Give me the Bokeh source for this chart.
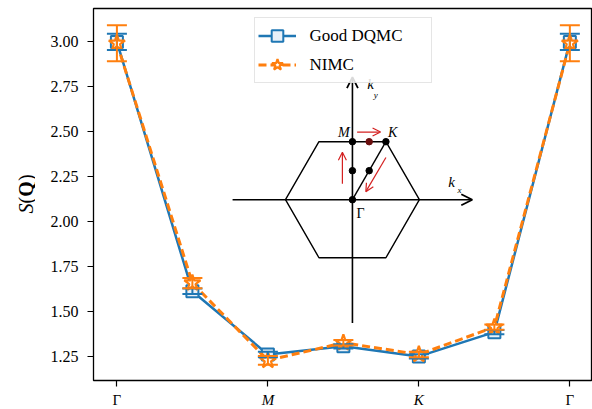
import numpy as np
from bokeh.plotting import figure
from bokeh.layouts import row, column
from bokeh.models import (ColumnDataSource, Whisker, TeeHead, Arrow, OpenHead, Label,
                          Legend, LegendItem, FixedTicker, Range1d)
from bokeh.embed import file_html
from bokeh.resources import INLINE

# ---------------- data ----------------
x_pos = [0, 1, 2, 3, 4, 5, 6]
tick_pos = [0, 2, 4, 6]
tick_labels = ["Γ", "M", "K", "Γ"]
tick_styles = ["normal", "italic", "italic", "normal"]
y_ticks = [1.25, 1.50, 1.75, 2.00, 2.25, 2.50, 2.75, 3.00]

good_y = [3.00, 1.613, 1.261, 1.306, 1.250, 1.385, 3.00]
good_err = [0.045, 0.015, 0.015, 0.012, 0.012, 0.012, 0.045]
nimc_y = [2.993, 1.658, 1.228, 1.326, 1.261, 1.413, 2.993]
nimc_err = [0.10, 0.028, 0.025, 0.015, 0.015, 0.015, 0.10]

# inset (Brillouin-zone sketch) in unit coordinates, hexagon circumradius = 1
hex_u = [1, 0.5, -0.5, -1, -0.5, 0.5, 1]
hex_v = [0, 0.866, 0.866, 0, -0.866, -0.866, 0]
dot_u = [0, 0.25, 0.5, 0, 0.25, 0]
dot_v = [0.866, 0.866, 0.866, 0.433, 0.433, 0]
dot_c = ["black", "#6b0f0f", "black", "black", "black", "black"]
red_arrows = [(0.07, 1.01, 0.42, 1.01), (-0.15, 0.24, -0.15, 0.71), (0.50, 0.63, 0.20, 0.12)]
axis_arrows = [(-1.79, 0, 1.79, 0), (0, -1.84, 0, 1.83)]
gk_line = ([0, 0.5], [0, 0.866])
inset_center = (3.12, 2.122)
inset_scale = (0.887, 0.3728)

FONT = "Liberation Serif"
BLUE = "#1f77b4"
ORANGE = "#ff7f0e"
RED = "#d42020"

XR = Range1d(-0.31, 6.3)
YR = Range1d(1.116, 3.186)

# ---------------- main figure ----------------
p = figure(width=557, height=390, output_backend="svg", toolbar_location=None,
           x_range=XR, y_range=YR,
           min_border_left=58, min_border_right=0, min_border_top=8, min_border_bottom=10)
p.grid.visible = False
p.outline_line_color = "black"
p.outline_line_width = 1.3
p.background_fill_color = "white"
p.border_fill_color = "white"

p.yaxis.ticker = FixedTicker(ticks=y_ticks)
p.yaxis.major_label_overrides = {t: f"{t:.2f}" for t in y_ticks}
p.yaxis.major_label_text_font = FONT
p.yaxis.major_label_text_font_size = "16px"
p.yaxis.major_label_text_color = "black"
p.yaxis.major_tick_out = 6
p.yaxis.major_tick_in = 0
p.yaxis.minor_tick_out = 0
p.yaxis.minor_tick_in = 0
p.yaxis.major_label_standoff = 9
p.yaxis.axis_line_color = None
p.yaxis.major_tick_line_width = 1.2

p.xaxis.ticker = FixedTicker(ticks=tick_pos)
p.xaxis.major_label_overrides = {t: "" for t in tick_pos}
p.xaxis.major_label_text_font_size = "1px"
p.xaxis.major_label_standoff = 0
p.xaxis.major_tick_out = 6
p.xaxis.major_tick_in = 0
p.xaxis.minor_tick_out = 0
p.xaxis.minor_tick_in = 0
p.xaxis.axis_line_color = None
p.xaxis.major_tick_line_width = 1.2

# ---------------- inset ----------------
cx, cy = inset_center
sx, sy = inset_scale
def tx(u):
    return [cx + a * sx for a in u]
def ty(v):
    return [cy + a * sy for a in v]

p.line(tx(hex_u), ty(hex_v), line_color="black", line_width=1.4)
p.line(tx(gk_line[0]), ty(gk_line[1]), line_color="black", line_width=1.4)
for (u0, v0, u1, v1) in axis_arrows:
    p.add_layout(Arrow(x_start=tx([u0])[0], y_start=ty([v0])[0], x_end=tx([u1])[0], y_end=ty([v1])[0],
                       line_color="black", line_width=1.6,
                       end=OpenHead(size=11, line_color="black", line_width=1.8)))
for (u0, v0, u1, v1) in red_arrows:
    p.add_layout(Arrow(x_start=tx([u0])[0], y_start=ty([v0])[0], x_end=tx([u1])[0], y_end=ty([v1])[0],
                       line_color=RED, line_width=1.2,
                       end=OpenHead(size=8, line_color=RED, line_width=1.2)))
p.scatter(tx(dot_u), ty(dot_v), marker="circle", size=6.5, fill_color=dot_c, line_color=dot_c)

inset_labels = [("M", -0.04, 1.0, "right", "italic", "14px"),
                ("K", 0.53, 1.0, "left", "italic", "14px"),
                ("Γ", 0.06, -0.21, "left", "normal", "14px"),
                ("k", 0.22, 1.72, "left", "italic", "15px"),
                ("y", 0.32, 1.56, "left", "italic", "9px"),
                ("k", 1.43, 0.26, "left", "italic", "15px"),
                ("x", 1.57, 0.14, "left", "italic", "9px")]
for txt, u, v, al, st, fs in inset_labels:
    p.add_layout(Label(x=tx([u])[0], y=ty([v])[0], text=txt, text_font=FONT, text_font_size=fs,
                       text_font_style=st, text_align=al, text_baseline="middle", text_color="black"))

# ---------------- data series ----------------
src_g = ColumnDataSource(dict(x=x_pos, y=good_y,
                              lo=[a - b for a, b in zip(good_y, good_err)],
                              hi=[a + b for a, b in zip(good_y, good_err)]))
src_n = ColumnDataSource(dict(x=x_pos, y=nimc_y,
                              lo=[a - b for a, b in zip(nimc_y, nimc_err)],
                              hi=[a + b for a, b in zip(nimc_y, nimc_err)]))

for src, col in [(src_g, BLUE), (src_n, ORANGE)]:
    p.add_layout(Whisker(source=src, base="x", upper="hi", lower="lo", dimension="height",
                         line_color=col, line_width=2, level="glyph",
                         upper_head=TeeHead(size=20, line_color=col, line_width=2),
                         lower_head=TeeHead(size=20, line_color=col, line_width=2)))

g_line = p.line("x", "y", source=src_g, line_color=BLUE, line_width=2.5)
g_mark = p.scatter("x", "y", source=src_g, marker="square", size=12, fill_color="#eaf1f8",
                   line_color=BLUE, line_width=2)
n_line = p.line("x", "y", source=src_n, line_color=ORANGE, line_width=3, line_dash="8 4")
n_mark = p.scatter("x", "y", source=src_n, marker="star", size=17, fill_color="white",
                   line_color=ORANGE, line_width=2.2)

# legend-only vertical bars
g_bar = p.scatter(x=[np.nan], y=[np.nan], marker="dash", angle=np.pi / 2, size=20,
                  line_color=BLUE, line_width=2)
n_bar = p.scatter(x=[np.nan], y=[np.nan], marker="dash", angle=np.pi / 2, size=20,
                  line_color=ORANGE, line_width=2)

legend = Legend(items=[LegendItem(label="Good DQMC", renderers=[g_line, g_bar, g_mark]),
                       LegendItem(label="NIMC", renderers=[n_line, n_bar, n_mark])],
                location="top_center", margin=9, padding=3, spacing=-5,
                glyph_width=38, glyph_height=29, label_standoff=14, label_width=118,
                label_text_font=FONT, label_text_font_size="17px", label_text_color="black",
                border_line_color="#cccccc", border_line_width=1.2,
                background_fill_color="white", background_fill_alpha=0.85)
p.add_layout(legend)

# ---------------- y-axis title strip (S(Q)) ----------------
pl = figure(width=35, height=409, output_backend="svg", toolbar_location=None,
            x_range=Range1d(0, 35), y_range=YR, x_axis_location=None, y_axis_location=None,
            min_border_left=0, min_border_right=0, min_border_top=8, min_border_bottom=29)
pl.grid.visible = False
pl.outline_line_color = None
pl.background_fill_color = "white"
pl.border_fill_color = "white"
ylab_parts = [("S", "italic", 2.0735), ("(", "normal", 2.120), ("Q", "bold", 2.182), (")", "normal", 2.244)]
for txt, st, yy in ylab_parts:
    pl.add_layout(Label(x=25, y=yy, text=txt, angle=np.pi / 2, text_font=FONT,
                        text_font_size="20px", text_font_style=st, text_align="center",
                        text_baseline="middle", text_color="black"))

# ---------------- x tick-label strip ----------------
pb = figure(width=557, height=19, output_backend="svg", toolbar_location=None,
            x_range=XR, y_range=Range1d(0, 1), x_axis_location=None, y_axis_location=None,
            min_border_left=58, min_border_right=0, min_border_top=0, min_border_bottom=0)
pb.grid.visible = False
pb.outline_line_color = None
pb.background_fill_color = "white"
pb.border_fill_color = "white"
for t, lab, st in zip(tick_pos, tick_labels, tick_styles):
    pb.add_layout(Label(x=t, y=18, x_units="data", y_units="screen", text=lab,
                        text_font=FONT, text_font_size="15px", text_font_style=st,
                        text_align="center", text_baseline="top", text_color="black"))

layout = row(pl, column(p, pb, spacing=0), spacing=0)
open("out.html", "w").write(file_html(layout, INLINE))
